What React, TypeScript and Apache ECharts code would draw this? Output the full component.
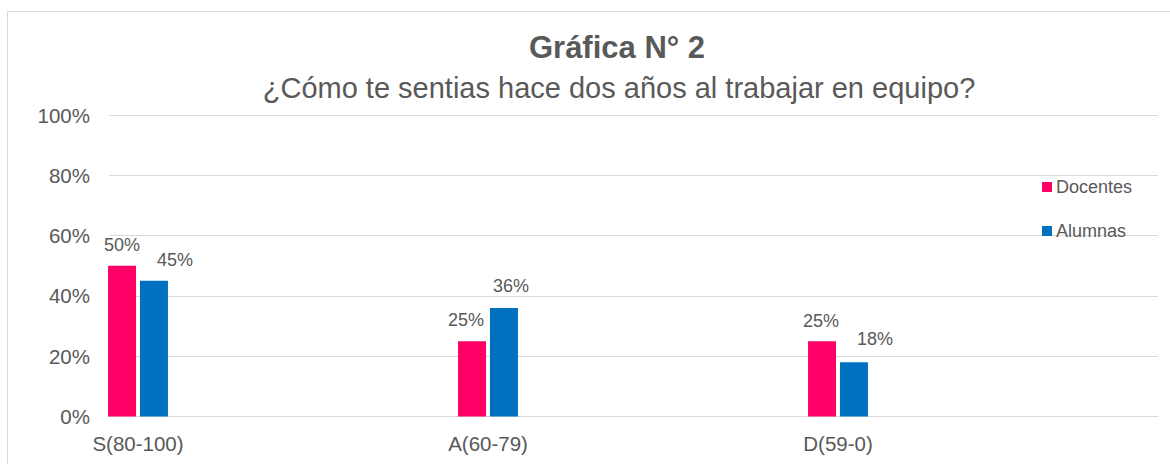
import React, { useEffect, useRef } from 'react';
import * as echarts from 'echarts';

const categories = ['S(80-100)', 'A(60-79)', 'D(59-0)'];
const seriesNames = ['Docentes', 'Alumnas'];
const docentes = [50, 25, 25];
const alumnas = [45, 36, 18];
const yMin = 0;
const yMax = 100;
const yInterval = 20;

// label nudges (layout only)
const docentesLabelOffsets = [[0, 0], [-6, 0], [-1, 1]];
const alumnasLabelOffsets = [[21, 0], [7, -1], [21, -2]];

const FONT = "'Liberation Sans', Arial, sans-serif";
const TEXT = '#595959';
const GRID = '#d9d9d9';

export default function App() {
  const ref = useRef<HTMLDivElement>(null);
  useEffect(() => {
    if (!ref.current) return;
    const chart = echarts.init(ref.current, undefined, { renderer: 'svg' });
    const mk = (vals: number[], offs: number[][]) =>
      vals.map((v, i) => ({ value: [i, v], label: { offset: offs[i] } }));
    const labelCfg = {
      show: true,
      position: 'top',
      distance: 12,
      color: TEXT,
      fontSize: 18,
      fontFamily: FONT,
      formatter: (p: any) => p.value[1] + '%',
    };
    chart.setOption({
      animation: false,
      backgroundColor: '#fff',
      textStyle: { fontFamily: FONT },
      title: [
        {
          text: 'Gráfica N° 2',
          left: 617,
          textAlign: 'center',
          top: 32,
          padding: 0,
          textStyle: { fontSize: 31, fontWeight: 'bold', color: TEXT, fontFamily: FONT },
        },
        {
          text: '¿Cómo te sentias hace dos años al trabajar en equipo?',
          left: 619,
          textAlign: 'center',
          top: 73,
          padding: 0,
          textStyle: { fontSize: 29, fontWeight: 'normal', color: TEXT, fontFamily: FONT },
        },
      ],
      legend: {
        data: seriesNames,
        orient: 'vertical',
        left: 1042,
        top: 178,
        padding: 0,
        itemWidth: 10,
        itemHeight: 10,
        itemGap: 26,
        icon: 'rect',
        textStyle: { fontSize: 18, color: TEXT, fontFamily: FONT, padding: [0, 0, 0, -1] },
      },
      graphic: [
        {
          type: 'rect',
          z: -10,
          silent: true,
          shape: { x: 7.5, y: 11.5, width: 1300, height: 600 },
          style: { fill: 'none', stroke: GRID, lineWidth: 1 },
        },
      ],
      grid: { left: 109, right: 12, top: 115, bottom: 47.5, containLabel: false },
      xAxis: {
        type: 'value',
        min: (109 - 138) / 350,
        max: (1158 - 138) / 350,
        splitLine: { show: false },
        axisTick: { show: false },
        axisLine: { show: true, lineStyle: { color: GRID, width: 1 } },
        axisLabel: {
          customValues: [0, 1, 2],
          formatter: (v: number) => categories[Math.round(v)] ?? '',
          color: TEXT,
          fontSize: 20.5,
          fontFamily: FONT,
          margin: 16,
        },
      },
      yAxis: {
        type: 'value',
        min: yMin,
        max: yMax,
        interval: yInterval,
        axisLine: { show: false },
        axisTick: { show: false },
        splitLine: { lineStyle: { color: GRID, width: 1 } },
        axisLabel: {
          formatter: '{value}%',
          color: TEXT,
          fontSize: 20.5,
          fontFamily: FONT,
          margin: 19,
        },
      },
      series: [
        {
          name: seriesNames[0],
          type: 'bar',
          barWidth: 28,
          barGap: '14%',
          itemStyle: { color: '#FF0066' },
          label: labelCfg,
          data: mk(docentes, docentesLabelOffsets),
        },
        {
          name: seriesNames[1],
          type: 'bar',
          barWidth: 28,
          barGap: '14%',
          itemStyle: { color: '#0070C0' },
          label: labelCfg,
          data: mk(alumnas, alumnasLabelOffsets),
        },
      ],
    });
    return () => chart.dispose();
  }, []);
  return (
    <div
      ref={ref}
      style={{ position: 'fixed', left: 0, top: 0, width: 1170, height: 464 }}
    />
  );
}
